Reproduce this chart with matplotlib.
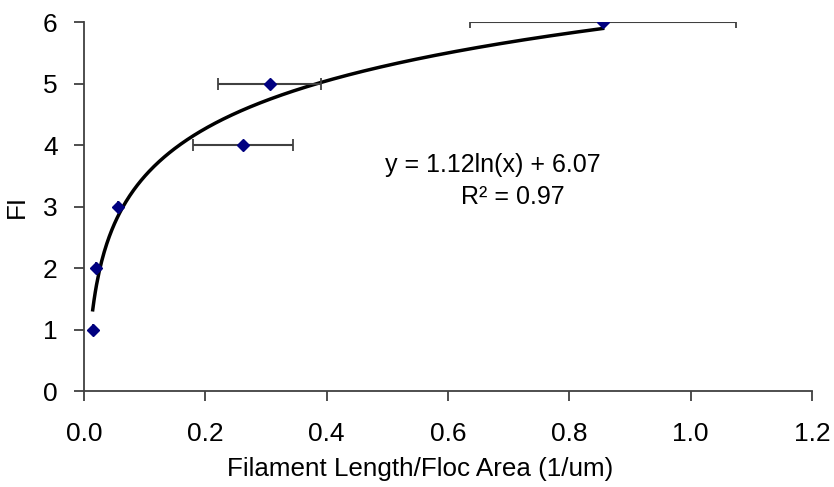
import numpy as np
import matplotlib
matplotlib.use("Agg")
import matplotlib.pyplot as plt

plt.rcParams['font.family'] = ['Liberation Sans', 'DejaVu Sans']

x_vals = [0.0144, 0.0205, 0.056, 0.262, 0.306, 0.855]
fi_vals = [1, 2, 3, 4, 5, 6]
x_err = [0.0, 0.0, 0.0, 0.083, 0.085, 0.219]
fit_a = 1.12
fit_b = 6.07
x_ticks = [0.0, 0.2, 0.4, 0.6, 0.8, 1.0, 1.2]
y_ticks = [0, 1, 2, 3, 4, 5, 6]

fig = plt.figure(figsize=(8.34, 4.87), dpi=100)
ax = fig.add_axes([0.1007, 0.1971, 0.8729, 0.7577])

xs = np.linspace(min(x_vals), max(x_vals), 400)
ax.plot(xs, fit_a * np.log(xs) + fit_b, color='black', lw=2.5, zorder=2)

ax.errorbar(x_vals, fi_vals, xerr=x_err, fmt='none', ecolor='#404040',
            elinewidth=1.5, capsize=4, capthick=1.3, zorder=3)
ax.plot(x_vals, fi_vals, linestyle='none', marker='D', color='#000080',
        markersize=6.5, zorder=4)

ax.set_xlim(0, 1.2)
ax.set_ylim(0, 6)
ax.set_xticks(x_ticks)
ax.set_xticklabels([f"{t:.1f}" for t in x_ticks])
ax.set_yticks(y_ticks)
for s in ['top', 'right']:
    ax.spines[s].set_visible(False)
for s in ['left', 'bottom']:
    ax.spines[s].set_color('#404040')
    ax.spines[s].set_linewidth(1.3)
ax.tick_params(axis='both', direction='out', length=7, width=1.3,
               color='#404040', labelsize=19)
ax.tick_params(axis='x', pad=15)
ax.tick_params(axis='y', pad=12)

ax.set_xlabel('Filament Length/Floc Area (1/um)', fontsize=18.7)
ax.xaxis.set_label_coords(0.462, -0.178)
ax.set_ylabel('FI', fontsize=18.7)
ax.yaxis.set_label_coords(-0.076, 0.5)

ax.text(0.562, 0.613, 'y = 1.12ln(x) + 6.07', transform=ax.transAxes,
        ha='center', va='center', fontsize=18)
ax.text(0.589, 0.526, 'R² = 0.97', transform=ax.transAxes,
        ha='center', va='center', fontsize=18)

fig.savefig('out.png', dpi=100)
